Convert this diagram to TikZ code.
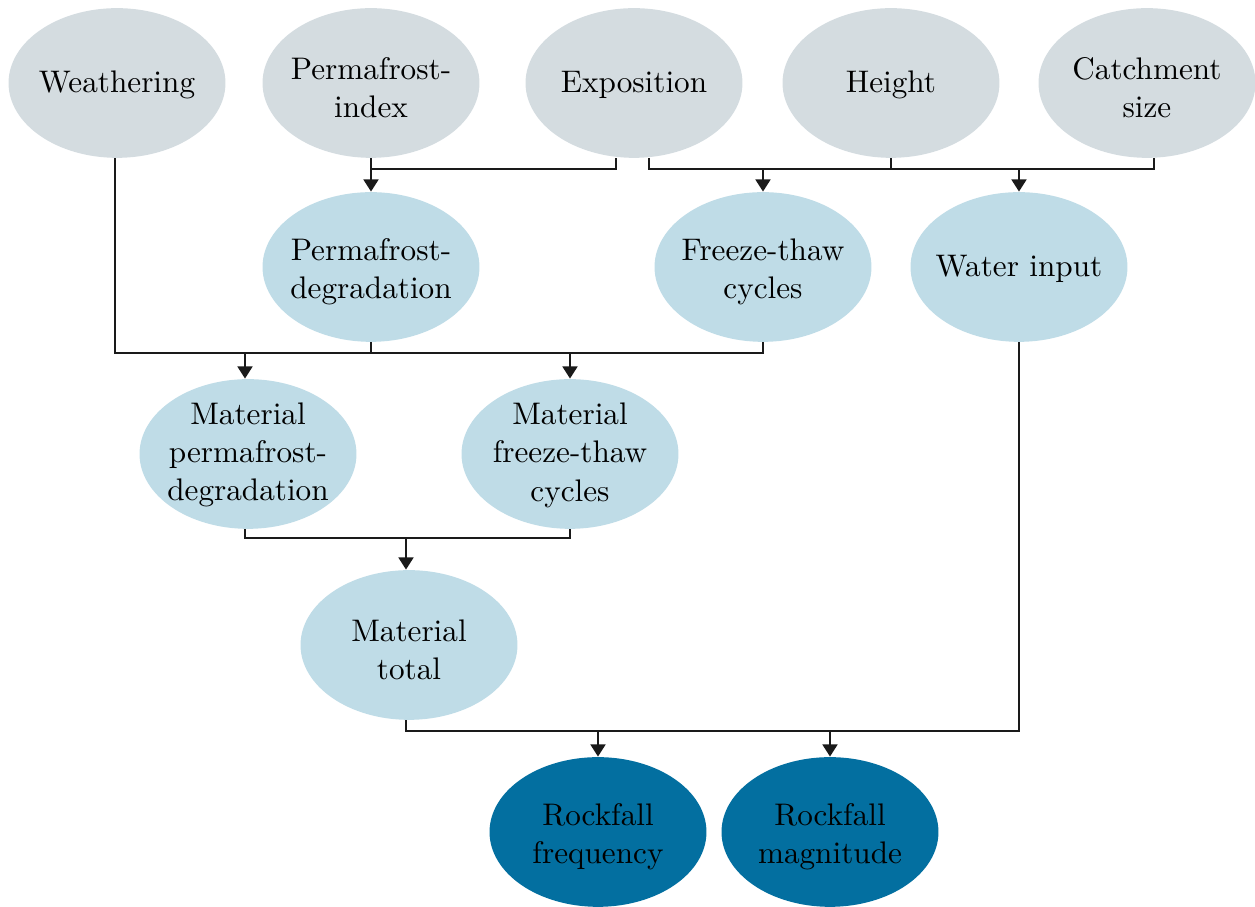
\documentclass[tikz,border=0pt]{standalone}
\usetikzlibrary{shapes.geometric,arrows.meta}
\definecolor{topgrey}{HTML}{D4DCE0}
\definecolor{midblue}{HTML}{BFDCE7}
\definecolor{darkblue}{HTML}{036FA0}
\definecolor{linecol}{HTML}{1A1A1A}
\begin{document}
\begin{tikzpicture}[x=0.33pt,y=-0.33pt,
  ell/.style={ellipse,inner sep=0pt,minimum width=71.6pt,minimum height=49.4pt},
  greyell/.style={ell,fill=topgrey},
  blueell/.style={ell,fill=midblue},
  darkell/.style={ell,fill=darkblue},
  txt/.style={inner sep=0pt,align=center,font=\fontsize{10.3}{12.7}\selectfont},
  ln/.style={draw=linecol,line width=0.45pt},
  arr/.style={ln,-{Triangle[width=5pt,length=4pt]}}]
\useasboundingbox (0,0) rectangle (1255,907);
% bus levels
\coordinate (b1) at (0,169);
\coordinate (b2) at (0,353);
\coordinate (b3) at (0,538);
\coordinate (b4) at (0,731);
% ellipses
\node[greyell] (W) at (117,83) {};
\node[greyell] (PI) at (371,83) {};
\node[greyell] (E) at (634,83) {};
\node[greyell] (H) at (891,83) {};
\node[greyell] (C) at (1147,83) {};
\node[blueell] (PD) at (371,267) {};
\node[blueell] (FT) at (763,267) {};
\node[blueell] (WI) at (1019,267) {};
\node[blueell] (MPD) at (248,454) {};
\node[blueell] (MFT) at (570,454) {};
\node[blueell] (MT) at (409,645) {};
\node[darkell] (RF) at (598,832) {};
\node[darkell] (RM) at (830,832) {};
% texts
\node[txt] (Wt) at ([yshift=-0.6pt]W.center) {Weathering};
\node[txt] (PIt) at ([yshift=-1.6pt]PI.center) {Permafrost-\\index};
\node[txt] (Et) at ([yshift=-0.6pt]E.center) {Exposition};
\node[txt] (Ht) at ([yshift=-0.6pt]H.center) {Height};
\node[txt] (Ct) at ([yshift=-1.6pt]C.center) {Catchment\\size};
\node[txt] (PDt) at ([yshift=-1.6pt]PD.center) {Permafrost-\\degradation};
\node[txt] (FTt) at ([yshift=-1.6pt]FT.center) {Freeze-thaw\\cycles};
\node[txt] (WIt) at ([yshift=-0.6pt]WI.center) {Water input};
\node[txt] (MPDt) at ([yshift=-0.3pt]MPD.center) {Material\\permafrost-\\degradation};
\node[txt] (MFTt) at ([yshift=-0.3pt]MFT.center) {Material\\freeze-thaw\\cycles};
\node[txt] (MTt) at ([yshift=-1.6pt]MT.center) {Material\\total};
\node[txt] (RFt) at ([yshift=-1.6pt]RF.center) {Rockfall\\frequency};
\node[txt] (RMt) at ([yshift=-1.6pt]RM.center) {Rockfall\\magnitude};
% anchor points on node bottoms
\coordinate (Eleft) at ([xshift=-18*0.33pt]E.south);
\coordinate (Eright) at ([xshift=15*0.33pt]E.south);
\coordinate (Wout) at ([xshift=-2*0.33pt]W.south);
\coordinate (Cout) at ([xshift=7*0.33pt]C.south);
\coordinate (MPDout) at ([xshift=-3*0.33pt]MPD.south);
\coordinate (MPDin) at ([xshift=-3*0.33pt]MPD.north);
\coordinate (MTout) at ([xshift=-3*0.33pt]MT.south);
\coordinate (MTin) at ([xshift=-3*0.33pt]MT.north);
% bus 1
\draw[ln] (PI.south) -- (PI.south |- b1) -| (Eleft);
\draw[arr] (PD.north |- b1) -- (PD.north);
\draw[ln] (Eright) -- (Eright |- b1) -- (Cout |- b1) -- (Cout);
\draw[ln] (H.south) -- (H.south |- b1);
\draw[arr] (FT.north |- b1) -- (FT.north);
\draw[arr] (WI.north |- b1) -- (WI.north);
% bus 2
\draw[ln] (Wout) -- (Wout |- b2) -- (FT.south |- b2) -- (FT.south);
\draw[ln] (PD.south) -- (PD.south |- b2);
\draw[arr] (MPDin |- b2) -- (MPDin);
\draw[arr] (MFT.north |- b2) -- (MFT.north);
% bus 3
\draw[ln] (MPDout) -- (MPDout |- b3) -- (MFT.south |- b3) -- (MFT.south);
\draw[arr] (MTin |- b3) -- (MTin);
% bus 4
\draw[ln] (MTout) -- (MTout |- b4) -- (WI.south |- b4) -- (WI.south);
\draw[arr] (RF.north |- b4) -- (RF.north);
\draw[arr] (RM.north |- b4) -- (RM.north);
\end{tikzpicture}
\end{document}
